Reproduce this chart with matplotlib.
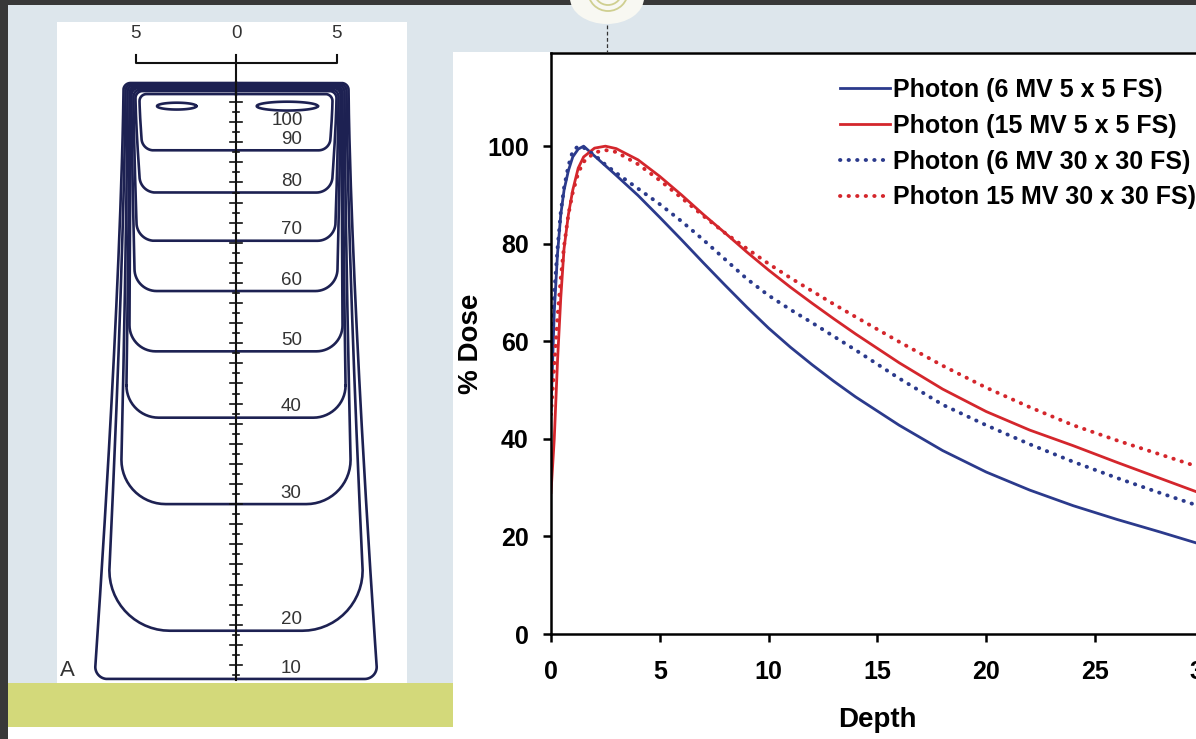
import numpy as np
import matplotlib as mpl
import matplotlib.pyplot as plt
from matplotlib.patches import Rectangle, Ellipse

W, H = 1196, 739

COLORS = {
    "frame": "#383838",
    "slide": "#dde6ec",
    "band": "#d3d97a",
    "white": "#ffffff",
    "iso": "#1d2152",
    "axis": "#111111",
    "label": "#333333",
    "blue": "#2b3a8c",
    "red": "#d4262c",
}

# percentage depth dose curves (depth in cm, dose in %)
DEPTH = np.array([0, 0.15, 0.3, 0.45, 0.6, 0.8, 1.0, 1.25, 1.5, 2.0, 2.5, 3, 4, 5, 6, 7, 8, 9, 10,
                  11, 12, 13, 14, 16, 18, 20, 22, 24, 26, 28, 30])
PDD_6MV_5 = np.array([46, 66, 78, 86, 91, 95, 97.8, 99.4, 100, 98.0, 96.0, 94.0, 89.9, 85.4, 80.8,
                      76.1, 71.5, 67.0, 62.7, 58.8, 55.2, 51.8, 48.6, 42.8, 37.6, 33.2, 29.5,
                      26.3, 23.5, 20.9, 18.2])
PDD_15MV_5 = np.array([29, 40, 56, 69, 79, 86, 91, 95.5, 97.8, 99.6, 100, 99.5, 97.2, 93.8, 90.0,
                       86.0, 82.2, 78.3, 74.6, 71.1, 67.8, 64.6, 61.5, 55.6, 50.2, 45.6, 41.8,
                       38.6, 35.2, 31.9, 28.6])
PDD_6MV_30 = np.array([60, 70, 79, 86.5, 91.5, 96, 99, 100, 99.7, 98.2, 96.2, 94.5, 91.3, 88.1, 84.6,
                       80.8, 76.8, 72.8, 69.4, 66.5, 63.8, 61.0, 58.2, 52.4, 47.0, 42.8, 38.9,
                       35.3, 32.0, 28.9, 25.9])
PDD_15MV_30 = np.array([45, 55, 65, 73, 79.5, 86, 90.5, 94.5, 96.8, 98.7, 99.2, 98.8, 96.3, 93.0, 89.4,
                        85.7, 82.2, 79.0, 75.9, 73.0, 70.3, 67.6, 65.0, 59.9, 55.0, 50.5, 46.5,
                        42.8, 39.7, 36.8, 33.9])
SERIES_LABELS = ["Photon (6 MV 5 x 5 FS)", "Photon (15 MV 5 x 5 FS)",
                 "Photon (6 MV 30 x 30 FS)", "Photon 15 MV 30 x 30 FS)"]
X_TICKS = [0, 5, 10, 15, 20, 25, 30]
Y_TICKS = [0, 20, 40, 60, 80, 100]

# isodose chart (cm): level, central-axis depth, half width near the bottom corner,
# half width at the surface, depth of the shallow (build-up) edge, corner radius
ISO_LEVELS = [90, 80, 70, 60, 50, 40, 30, 20, 10]
ISO_DEPTH = [3.4, 5.5, 7.9, 10.4, 13.4, 16.7, 21.0, 27.3, 29.7]
ISO_HALF = [4.7, 4.8, 4.95, 5.05, 5.3, 5.45, 5.7, 6.3, 7.0]
ISO_SURF = [4.8, 5.0, 5.1, 5.2, 5.25, 5.3, 5.4, 5.5, 5.6]
ISO_TOP = [0.6, 0.45, 0.38, 0.3, 0.25, 0.2, 0.15, 0.1, 0.05]
ISO_CORNER = [0.6, 0.8, 0.9, 1.1, 1.3, 1.6, 2.2, 3.0, 0.6]
# 100% hot spots
HOT_X = [-2.95, 2.55]
HOT_DEPTH = [1.2, 1.2]
HOT_HALF_LEN = [0.98, 1.52]
HOT_HALF_H = [0.17, 0.22]
SCALE_TICKS = ["5", "0", "5"]
SCALE_POS = [-5, 0, 5]

PX_CM = 20.1
CX, SURF_Y = 236, 82


def fx(px):
    return px / W


def fy(py):
    return 1 - py / H


def rect(fig, x0, y0, x1, y1, color):
    fig.add_artist(Rectangle((fx(x0), fy(y1)), (x1 - x0) / W, (y1 - y0) / H,
                             transform=fig.transFigure, facecolor=color, edgecolor="none", zorder=0))


def iso_curve(top, surf, depth, half, corner, rt=0.35):
    pts = [(x, top) for x in np.linspace(0, surf - rt, 12)]
    th = np.linspace(np.pi / 2, 0, 10)
    pts += list(zip(surf - rt + rt * np.cos(th), top + rt - rt * np.sin(th)))
    t = np.linspace(0, 1, 25)
    y_end = depth - corner
    pts += list(zip(surf + (half - surf) * t ** 1.4, top + rt + t * (y_end - top - rt)))
    th = np.linspace(0, np.pi / 2, 16)
    pts += list(zip(half - corner + corner * np.cos(th), y_end + corner * np.sin(th)))
    pts += [(x, depth) for x in np.linspace(half - corner, 0, 12)]
    right = np.array(pts)
    left = right[::-1] * np.array([-1, 1])
    return np.vstack([right, left])


def main():
    mpl.rcParams.update({
        "font.family": ["Liberation Sans", "DejaVu Sans"],
        "axes.linewidth": 1.8,
    })
    fig = plt.figure(figsize=(W / 100, H / 100), dpi=100)
    fig.patch.set_facecolor(COLORS["slide"])

    # slide background pieces
    rect(fig, 0, 0, 8, H, COLORS["frame"])
    rect(fig, 8, 683, 453, 727, COLORS["band"])
    rect(fig, 8, 727, 453, H, COLORS["white"])
    rect(fig, 453, 52, W, H, COLORS["white"])
    rect(fig, 57, 22, 407, 683, COLORS["white"])
    fig.add_artist(Ellipse((fx(607), fy(-2)), 74 / W, 52 / H, transform=fig.transFigure,
                           facecolor="#f8f8f2", edgecolor="none", zorder=0.5))
    for r in (20, 14):
        fig.add_artist(Ellipse((fx(608), fy(-9)), 2 * r / W, 2 * r / H, transform=fig.transFigure,
                               facecolor="none", edgecolor="#cfcf90", lw=1.3, zorder=0.6))
    rect(fig, 0, 0, W, 5, COLORS["frame"])
    fig.add_artist(plt.Line2D([fx(607), fx(607)], [fy(25), fy(52)], transform=fig.transFigure,
                              color="#333333", lw=0.9, ls=(0, (3, 2)), zorder=1))

    # ---- left: isodose chart ----
    iso = fig.add_axes([fx(57), fy(683), 350 / W, 661 / H])
    iso.set_xlim((57 - CX) / PX_CM, (407 - CX) / PX_CM)
    iso.set_ylim((683 - SURF_Y) / PX_CM, (22 - SURF_Y) / PX_CM)
    iso.axis("off")

    for lev, d, hw, sw, tp, cr in zip(ISO_LEVELS, ISO_DEPTH, ISO_HALF, ISO_SURF, ISO_TOP, ISO_CORNER):
        c = iso_curve(tp, sw, d, hw, cr)
        iso.plot(c[:, 0], c[:, 1], color=COLORS["iso"], lw=1.9, solid_joinstyle="round")
        iso.text(2.75, d - 0.12, str(lev), ha="center", va="bottom", fontsize=13.5, color=COLORS["label"])
    th = np.linspace(0, 2 * np.pi, 60)
    for x0, d0, a, b in zip(HOT_X, HOT_DEPTH, HOT_HALF_LEN, HOT_HALF_H):
        iso.plot(x0 + a * np.cos(th), d0 + b * np.sin(th), color=COLORS["iso"], lw=1.9)
    iso.text(2.55, 2.35, "100", ha="center", va="bottom", fontsize=13.5, color=COLORS["label"])

    # central axis with cm ticks
    iso.plot([0, 0], [-1.35, 29.75], color=COLORS["axis"], lw=1.5)
    for d in np.arange(1, 29.6, 0.5):
        half = 0.32 if d % 1 == 0 else 0.16
        iso.plot([-half, half], [d, d], color=COLORS["axis"], lw=1.2)
    iso.plot([-5, -5, 5, 5], [-1.35, -0.95, -0.95, -1.35], color=COLORS["axis"], lw=1.5)
    for lab, xp in zip(SCALE_TICKS, SCALE_POS):
        iso.text(xp, -2.4, lab, ha="center", va="center", fontsize=13.5, color=COLORS["label"])
    iso.text(-8.75, 29.8, "A", ha="left", va="bottom", fontsize=16, color=COLORS["label"])

    # ---- right: depth dose ----
    ax = fig.add_axes([fx(551), fy(634), (1203.8 - 551) / W, (634 - 53) / H])
    ax.set_facecolor("white")
    ax.plot(DEPTH, PDD_6MV_5, color=COLORS["blue"], lw=2.0, label=SERIES_LABELS[0])
    ax.plot(DEPTH, PDD_15MV_5, color=COLORS["red"], lw=2.0, label=SERIES_LABELS[1])
    ax.plot(DEPTH, PDD_6MV_30, color=COLORS["blue"], lw=2.8, ls=(0, (0.1, 2.1)),
            dash_capstyle="round", label=SERIES_LABELS[2])
    ax.plot(DEPTH, PDD_15MV_30, color=COLORS["red"], lw=2.8, ls=(0, (0.1, 2.1)),
            dash_capstyle="round", label=SERIES_LABELS[3])
    ax.set_xlim(0, 30)
    ax.set_ylim(0, 119.1)
    ax.spines["right"].set_visible(False)
    ax.set_xticks(X_TICKS)
    ax.set_yticks(Y_TICKS)
    ax.tick_params(axis="both", direction="out", length=6, width=1.8, labelsize=18)
    ax.tick_params(axis="x", pad=13)
    ax.tick_params(axis="y", pad=10)
    for lab in ax.get_xticklabels() + ax.get_yticklabels():
        lab.set_fontweight("bold")
    ax.set_xlabel("Depth", fontsize=20, fontweight="bold", labelpad=16)
    ax.set_ylabel("% Dose", fontsize=20, fontweight="bold", labelpad=2)

    ax.legend(loc="upper left", bbox_to_anchor=(fx(840), fy(78)), bbox_transform=fig.transFigure,
              frameon=False, prop={"size": 18, "weight": "bold"}, handlelength=2.0,
              handletextpad=0.12, labelspacing=0.47, borderpad=0, borderaxespad=0)

    fig.savefig("out.png", dpi=100, facecolor=fig.get_facecolor())
    plt.close(fig)


if __name__ == "__main__":
    main()
